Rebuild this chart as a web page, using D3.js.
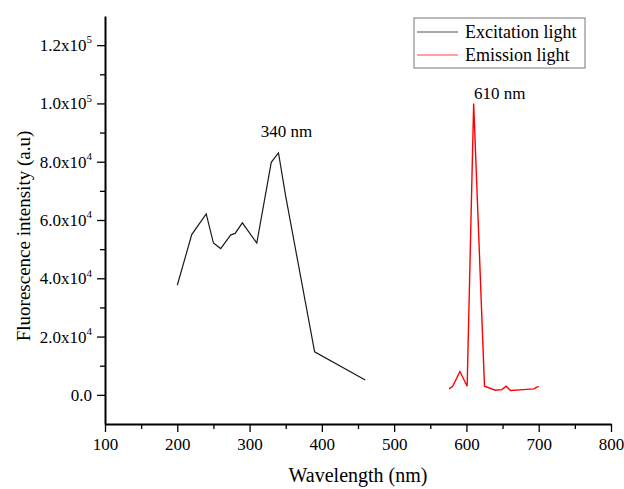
<!DOCTYPE html>
<html>
<head>
<meta charset="utf-8">
<script src="https://cdn.jsdelivr.net/npm/d3@7"></script>
<style>
  body { margin: 0; background: #fff; }
  svg { font-family: "Liberation Serif", "Times New Roman", serif; }
</style>
</head>
<body>
<svg id="chart"></svg>
<script>
// Spectrum data
const excitationWl = [200, 220, 240, 250, 260, 274, 280, 290, 310, 330, 340, 350, 390, 460];
const excitationInt = [37600, 55000, 62100, 52100, 50200, 54900, 55400, 59000, 52100, 79800, 83000, 68100, 14750, 5100];

const emissionWl = [576, 581, 591, 601, 610, 625, 640, 649, 655, 661, 679, 693, 700];
const emissionInt = [2060, 2950, 8000, 2950, 100000, 2950, 1600, 1800, 2950, 1500, 1800, 2060, 2950];

const xTicks = [100, 200, 300, 400, 500, 600, 700, 800];
const xMinor = [150, 250, 350, 450, 550, 650, 750];
const yTicks = [0, 20000, 40000, 60000, 80000, 100000, 120000];
const yMinor = [10000, 30000, 50000, 70000, 90000, 110000];
const yTickLabels = [["0.0", ""], ["2.0x10", "4"], ["4.0x10", "4"], ["6.0x10", "4"],
                     ["8.0x10", "4"], ["1.0x10", "5"], ["1.2x10", "5"]];

const seriesNames = ["Excitation light", "Emission light"];
const peakLabels = ["340 nm", "610 nm"];

// Set up the dimensions
const W = 624, H = 489;
const margin = { top: 16, right: 13, bottom: 65, left: 105 };

const svg = d3.select("#chart")
  .attr("width", W)
  .attr("height", H);

const x = d3.scaleLinear()
  .domain([100, 800])
  .range([margin.left, W - margin.right]);

const y = d3.scaleLinear()
  .domain([-10000, 130000])
  .range([H - margin.bottom, margin.top]);

// Minor ticks
svg.append("g")
  .attr("transform", "translate(0," + (H - margin.bottom) + ")")
  .call(d3.axisBottom(x).tickValues(xMinor).tickSize(5).tickFormat(""))
  .call(g => g.select(".domain").remove())
  .selectAll("line").attr("stroke-width", 1.3);

svg.append("g")
  .attr("transform", "translate(" + margin.left + ",0)")
  .call(d3.axisLeft(y).tickValues(yMinor).tickSize(5).tickFormat(""))
  .call(g => g.select(".domain").remove())
  .selectAll("line").attr("stroke-width", 1.3);

// X axis
const xAxis = svg.append("g")
  .attr("transform", "translate(0," + (H - margin.bottom) + ")")
  .call(d3.axisBottom(x).tickValues(xTicks).tickSize(8).tickSizeOuter(0).tickPadding(6));
xAxis.select(".domain").attr("stroke-width", 2);
xAxis.selectAll("line").attr("stroke-width", 1.3);
xAxis.selectAll("text")
  .attr("font-family", "Liberation Serif, Times New Roman, serif")
  .attr("font-size", 17)
  .attr("fill", "#000");

// Y axis with superscript labels
const yAxis = svg.append("g")
  .attr("transform", "translate(" + margin.left + ",0)")
  .call(d3.axisLeft(y).tickValues(yTicks).tickSize(8).tickSizeOuter(0).tickPadding(5).tickFormat(""));
yAxis.select(".domain").attr("stroke-width", 2);
yAxis.selectAll("line").attr("stroke-width", 1.3);
yAxis.selectAll(".tick text")
  .attr("font-family", "Liberation Serif, Times New Roman, serif")
  .attr("font-size", 17)
  .attr("fill", "#000")
  .each(function(d, i) {
    const t = d3.select(this);
    const lab = yTickLabels[i];
    t.append("tspan").text(lab[0]);
    if (lab[1]) {
      t.append("tspan").attr("font-size", 11).attr("dy", "-0.7em").text(lab[1]);
    }
  });

// Lines
const line = d3.line()
  .x(d => x(d[0]))
  .y(d => y(d[1]));

svg.append("path")
  .datum(excitationWl.map((w, i) => [w, excitationInt[i]]))
  .attr("fill", "none")
  .attr("stroke", "#1a1a1a")
  .attr("stroke-width", 1.2)
  .attr("d", line);

svg.append("path")
  .datum(emissionWl.map((w, i) => [w, emissionInt[i]]))
  .attr("fill", "none")
  .attr("stroke", "#ff0000")
  .attr("stroke-width", 1.4)
  .attr("d", line);

// Peak annotations
svg.append("text")
  .attr("x", x(351))
  .attr("y", y(83000) - 16)
  .attr("text-anchor", "middle")
  .attr("font-size", 17)
  .text(peakLabels[0]);

svg.append("text")
  .attr("x", x(646))
  .attr("y", y(100000) - 4)
  .attr("text-anchor", "middle")
  .attr("font-size", 17)
  .text(peakLabels[1]);

// Axis titles
svg.append("text")
  .attr("x", (margin.left + W - margin.right) / 2)
  .attr("y", 482)
  .attr("text-anchor", "middle")
  .attr("font-size", 20)
  .text("Wavelength (nm)");

svg.append("text")
  .attr("transform", "translate(30," + 236 + ") rotate(-90)")
  .attr("text-anchor", "middle")
  .attr("font-size", 19)
  .text("Fluorescence intensity (a.u)");

// Legend
const legend = svg.append("g").attr("transform", "translate(414,18)");
legend.append("rect")
  .attr("width", 171)
  .attr("height", 50)
  .attr("fill", "#fff")
  .attr("stroke", "#777")
  .attr("stroke-width", 1);
const legendColors = ["#555", "#ff4040"];
seriesNames.forEach((name, i) => {
  const ly = 14 + i * 23;
  legend.append("line")
    .attr("x1", 3).attr("x2", 44)
    .attr("y1", ly).attr("y2", ly)
    .attr("stroke", legendColors[i])
    .attr("stroke-width", 1.2);
  legend.append("text")
    .attr("x", 51)
    .attr("y", ly + 6)
    .attr("font-size", 18)
    .text(name);
});
</script>
</body>
</html>
